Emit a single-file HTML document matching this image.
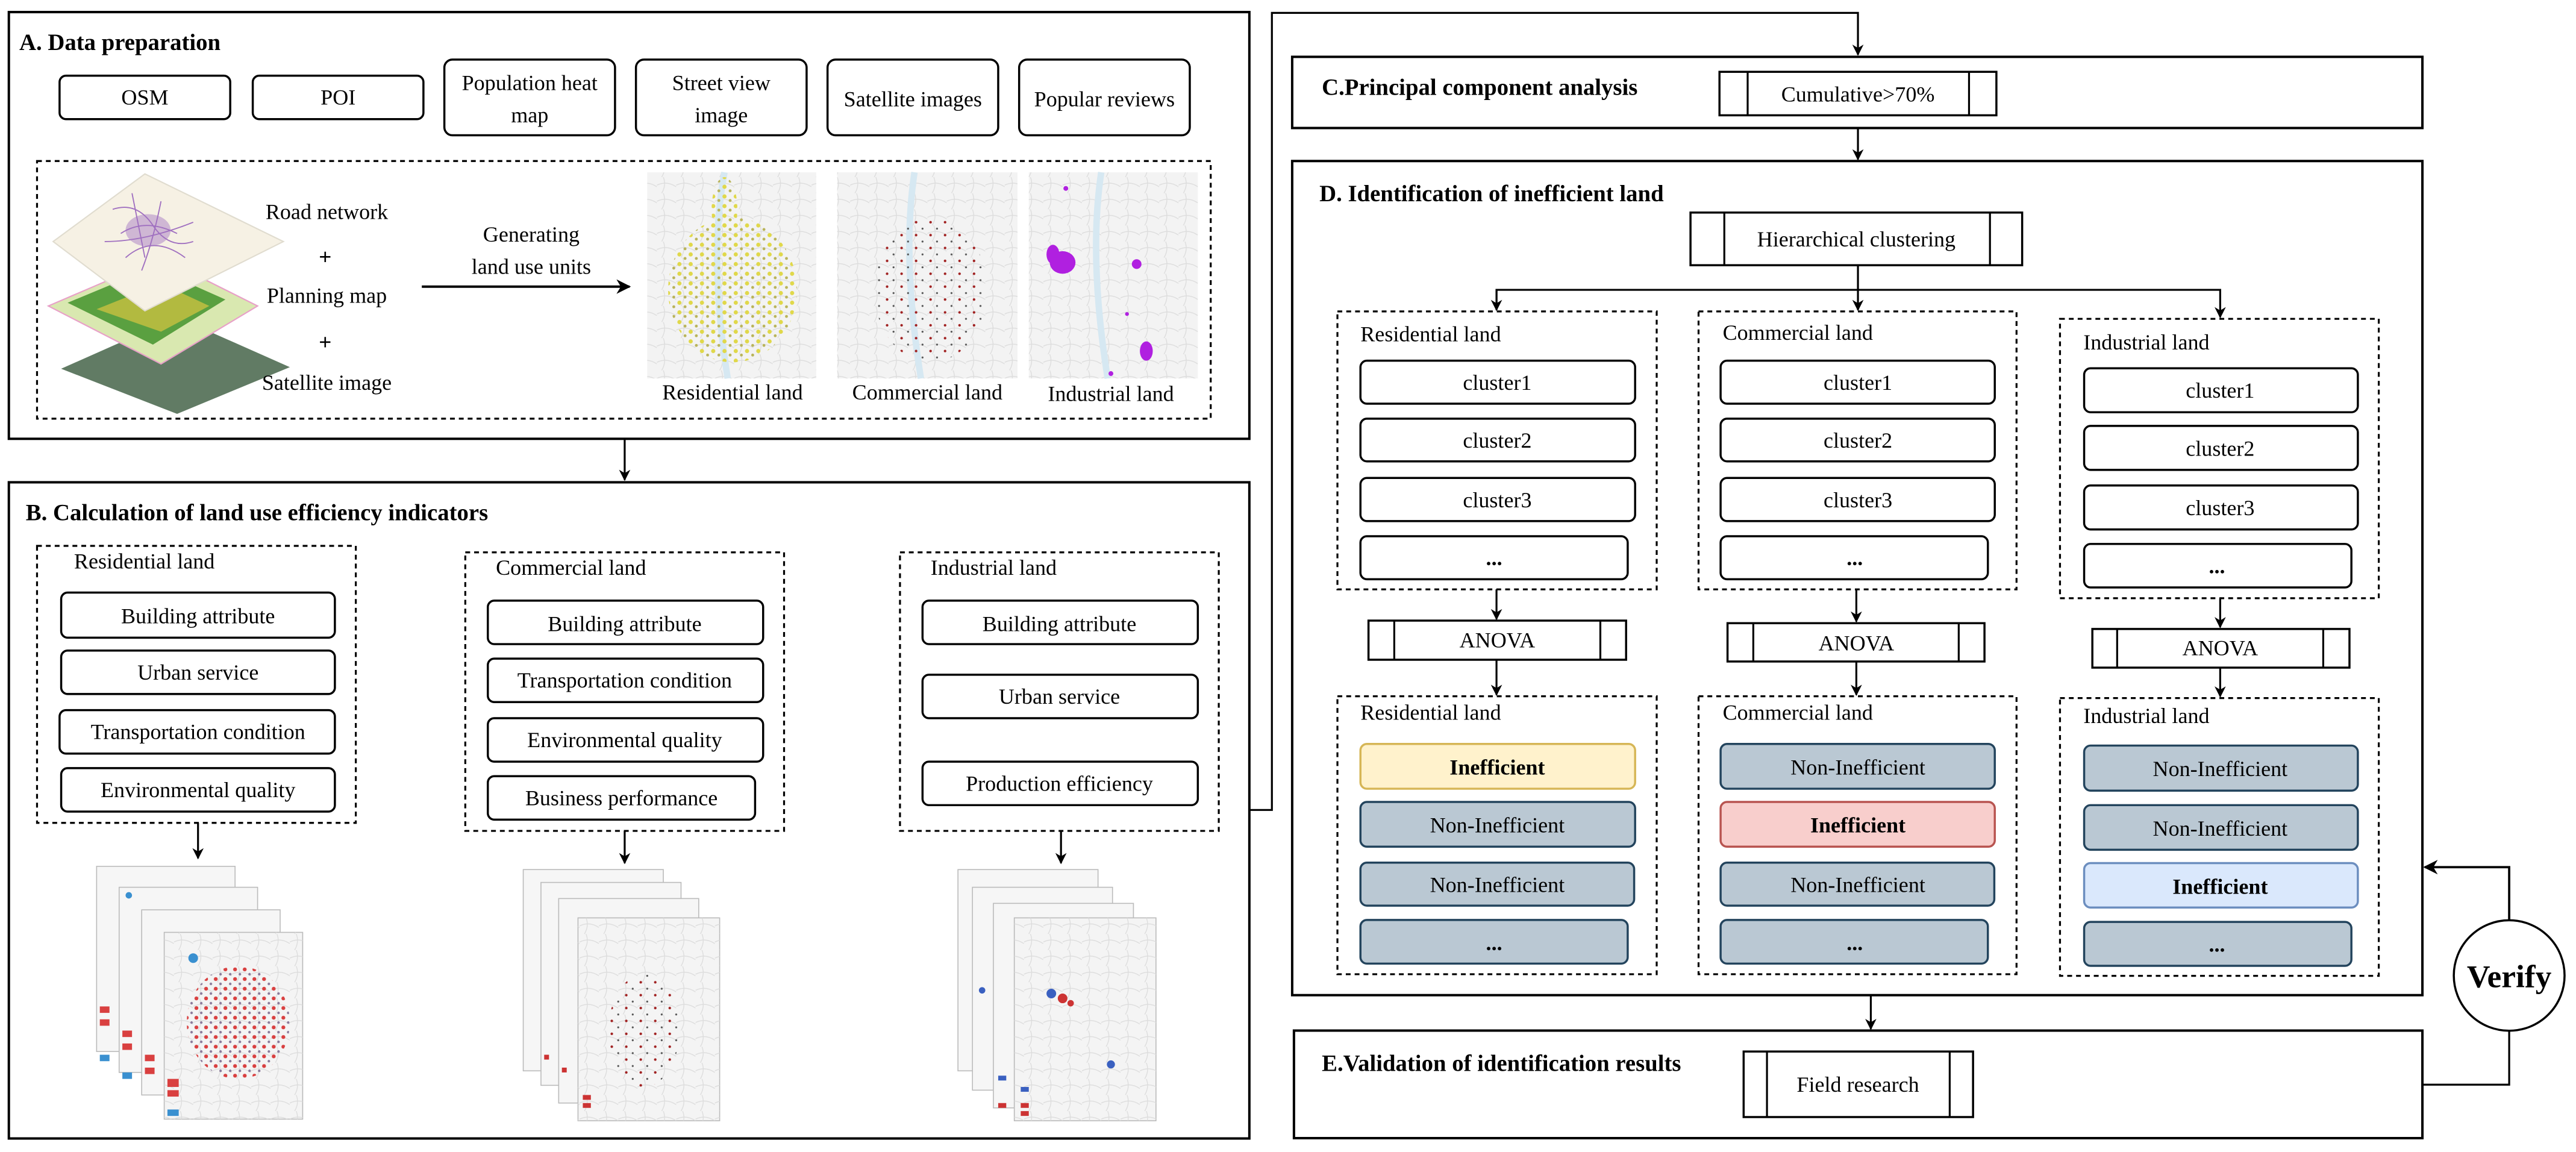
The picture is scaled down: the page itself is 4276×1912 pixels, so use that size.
<!DOCTYPE html>
<html><head><meta charset="utf-8"><style>
html,body{margin:0;padding:0;background:#fff;}
svg{display:block;}
text{font-family:"Liberation Serif",serif;fill:#000;}
</style></head><body>
<svg width="4276" height="1912" viewBox="0 0 1600 715.4" preserveAspectRatio="none" xmlns="http://www.w3.org/2000/svg">
<defs>
<marker id="ar" viewBox="0 0 10 10" refX="9" refY="5" markerWidth="7" markerHeight="7" orient="auto-start-reverse" markerUnits="userSpaceOnUse">
<path d="M0,0 L10,5 L0,10 L3,5 z" fill="#000"/></marker>
<marker id="ar2" viewBox="0 0 10 10" refX="9" refY="5" markerWidth="9" markerHeight="9" orient="auto-start-reverse" markerUnits="userSpaceOnUse">
<path d="M0,0 L10,5 L0,10 L3,5 z" fill="#000"/></marker>
<pattern id="py" width="7" height="6" patternUnits="userSpaceOnUse"><circle cx="2" cy="2" r="1.3" fill="#e0d84a"/><circle cx="5.5" cy="4.5" r="0.9" fill="#b9b45a"/></pattern>
<pattern id="pr" width="9" height="8" patternUnits="userSpaceOnUse"><circle cx="2" cy="2" r="0.8" fill="#a02020"/><circle cx="6" cy="6" r="0.6" fill="#555"/></pattern>
<pattern id="pres" width="6" height="6" patternUnits="userSpaceOnUse"><circle cx="2" cy="2" r="1.2" fill="#d94040"/><circle cx="5" cy="5" r="0.8" fill="#8a7a9a"/></pattern>
<pattern id="grid" width="12" height="10" patternUnits="userSpaceOnUse"><path d="M0,5 Q6,2 12,6 M4,0 Q6,5 3,10" stroke="#dcdcdc" stroke-width="0.5" fill="none"/></pattern>
</defs>

<!-- ===== A ===== -->
<rect x="5.5" y="7.5" width="770.5" height="265" fill="none" stroke="#000" stroke-width="1.5"/>
<text x="12" y="31" font-size="14.5" font-weight="bold">A. Data preparation</text>
<g fill="#fff" stroke="#000" stroke-width="1.3">
<rect x="37" y="47" width="106" height="27" rx="4"/>
<rect x="157" y="47" width="106" height="27" rx="4"/>
<rect x="276" y="37" width="106" height="47" rx="5"/>
<rect x="395" y="37" width="106" height="47" rx="5"/>
<rect x="514" y="37" width="106" height="47" rx="5"/>
<rect x="633" y="37" width="106" height="47" rx="5"/>
</g>
<g font-size="13.5" text-anchor="middle">
<text x="90" y="65">OSM</text>
<text x="210" y="65">POI</text>
<text x="329" y="56">Population heat</text><text x="329" y="76">map</text>
<text x="448" y="56">Street view</text><text x="448" y="76">image</text>
<text x="567" y="66">Satellite images</text>
<text x="686" y="66">Popular reviews</text>
</g>
<rect x="23" y="100" width="729" height="160" fill="none" stroke="#000" stroke-width="1.2" stroke-dasharray="3,2.5"/>
<!-- layers -->
<polygon points="38,229 110,197 180,228 110,257" fill="#6f8a70"/>
<polygon points="38,229 110,197 180,228 110,257" fill="#58725c" opacity="0.6"/>
<polygon points="30,190 100,160 160,190 100,226" fill="#d9e8b0" stroke="#e8a0c8" stroke-width="0.8"/>
<polygon points="42,188 95,166 140,186 95,214" fill="#5aa040"/>
<polygon points="60,192 100,176 130,190 100,206" fill="#c8c040" opacity="0.8"/>
<polygon points="33,150 90,108 176,150 90,193" fill="#f6f1e4" stroke="#e0dccf" stroke-width="0.8"/>
<g stroke="#a070c0" stroke-width="0.7" fill="none">
<path d="M70,130 Q85,125 95,140 T120,150 M75,145 Q90,135 110,145 M82,120 L90,160 M100,125 Q95,150 88,168 M65,150 Q90,150 120,138 M78,160 Q95,145 115,160"/>
</g>
<ellipse cx="92" cy="143" rx="14" ry="10" fill="#a070c0" opacity="0.45"/>
<g font-size="13.5" text-anchor="middle">
<text x="203" y="136">Road network</text>
<text x="202" y="164" font-weight="bold" font-size="14">+</text>
<text x="203" y="188">Planning map</text>
<text x="202" y="217" font-weight="bold" font-size="14">+</text>
<text x="203" y="242">Satellite image</text>
<text x="330" y="150">Generating</text>
<text x="330" y="170">land use units</text>
</g>
<line x1="262" y1="178" x2="391" y2="178" stroke="#000" stroke-width="1.5" marker-end="url(#ar2)"/>
<!-- A maps -->
<g>
<rect x="402" y="107" width="105" height="128" fill="#f3f3f3"/><rect x="402" y="107" width="105" height="128" fill="url(#grid)"/>
<path d="M450,107 Q440,160 452,235" stroke="#d6e8f2" stroke-width="4" fill="none"/>
<ellipse cx="455" cy="180" rx="40" ry="45" fill="url(#py)"/><ellipse cx="450" cy="130" rx="8" ry="20" fill="url(#py)"/>
<rect x="520" y="107" width="112" height="128" fill="#f3f3f3"/><rect x="520" y="107" width="112" height="128" fill="url(#grid)"/>
<path d="M568,107 Q560,160 572,235" stroke="#d6e8f2" stroke-width="4" fill="none"/>
<ellipse cx="578" cy="180" rx="35" ry="45" fill="url(#pr)"/>
<rect x="639" y="107" width="105" height="128" fill="#f3f3f3"/><rect x="639" y="107" width="105" height="128" fill="url(#grid)"/>
<path d="M684,107 Q676,160 688,235" stroke="#d6e8f2" stroke-width="4" fill="none"/>
<ellipse cx="660" cy="163" rx="8" ry="7" fill="#b020e0"/><ellipse cx="654" cy="158" rx="4" ry="6" fill="#b020e0"/>
<ellipse cx="712" cy="218" rx="4" ry="6" fill="#b020e0"/><ellipse cx="706" cy="164" rx="3" ry="3" fill="#b020e0"/>
<circle cx="662" cy="117" r="1.5" fill="#b020e0"/><circle cx="700" cy="195" r="1.2" fill="#b020e0"/><circle cx="690" cy="232" r="1.5" fill="#b020e0"/>
</g>
<g font-size="13.5" text-anchor="middle">
<text x="455" y="248">Residential land</text>
<text x="576" y="248">Commercial land</text>
<text x="690" y="249">Industrial land</text>
</g>
<line x1="388" y1="273" x2="388" y2="298" stroke="#000" stroke-width="1.2" marker-end="url(#ar)"/>

<!-- ===== B ===== -->
<rect x="5.5" y="299.5" width="770.5" height="407.5" fill="none" stroke="#000" stroke-width="1.5"/>
<text x="16" y="323" font-size="14.5" font-weight="bold">B. Calculation of  land use efficiency indicators</text>
<g fill="none" stroke="#000" stroke-width="1.2" stroke-dasharray="3,2.5">
<rect x="23" y="339" width="198" height="172"/>
<rect x="289" y="343" width="198" height="173"/>
<rect x="559" y="343" width="198" height="173"/>
</g>
<g font-size="13.5">
<text x="46" y="353">Residential land</text>
<text x="308" y="357">Commercial land</text>
<text x="578" y="357">Industrial land</text>
</g>
<g fill="#fff" stroke="#000" stroke-width="1.3">
<rect x="38" y="368" width="170" height="28" rx="4"/>
<rect x="38" y="404" width="170" height="27" rx="4"/>
<rect x="37" y="441" width="171" height="27" rx="4"/>
<rect x="38" y="477" width="170" height="27" rx="4"/>
<rect x="303" y="373" width="171" height="27" rx="4"/>
<rect x="303" y="409" width="171" height="27" rx="4"/>
<rect x="303" y="446" width="171" height="27" rx="4"/>
<rect x="303" y="482" width="166" height="27" rx="4"/>
<rect x="573" y="373" width="171" height="27" rx="4"/>
<rect x="573" y="419" width="171" height="27" rx="4"/>
<rect x="573" y="473" width="171" height="27" rx="4"/>
</g>
<g font-size="13.5" text-anchor="middle">
<text x="123" y="387">Building attribute</text>
<text x="123" y="422">Urban service</text>
<text x="123" y="459">Transportation condition</text>
<text x="123" y="495">Environmental quality</text>
<text x="388" y="392">Building attribute</text>
<text x="388" y="427">Transportation condition</text>
<text x="388" y="464">Environmental quality</text>
<text x="386" y="500">Business performance</text>
<text x="658" y="392">Building attribute</text>
<text x="658" y="437">Urban service</text>
<text x="658" y="491">Production efficiency</text>
</g>
<g stroke="#000" stroke-width="1.2">
<line x1="123" y1="511" x2="123" y2="533" marker-end="url(#ar)"/>
<line x1="388" y1="516" x2="388" y2="536" marker-end="url(#ar)"/>
<line x1="659" y1="516" x2="659" y2="536" marker-end="url(#ar)"/>
</g>
<!-- B map stacks -->
<g stroke="#bbb" stroke-width="0.6">
<g>
<rect x="60" y="538" width="86" height="115" fill="#f6f6f6"/>
<rect x="74" y="551" width="86" height="115" fill="#f6f6f6"/>
<rect x="88" y="565" width="86" height="115" fill="#f6f6f6"/>
<rect x="102" y="579" width="86" height="116" fill="#f4f4f4"/>
</g>
<g>
<rect x="325" y="540" width="87" height="125" fill="#f6f6f6"/>
<rect x="336" y="548" width="87" height="126" fill="#f6f6f6"/>
<rect x="347" y="558" width="87" height="127" fill="#f6f6f6"/>
<rect x="359" y="570" width="88" height="126" fill="#f4f4f4"/>
</g>
<g>
<rect x="595" y="540" width="87" height="125" fill="#f6f6f6"/>
<rect x="604" y="551" width="87" height="126" fill="#f6f6f6"/>
<rect x="617" y="561" width="87" height="127" fill="#f6f6f6"/>
<rect x="630" y="570" width="88" height="126" fill="#f4f4f4"/>
</g>
</g>
<rect x="102" y="579" width="86" height="116" fill="url(#grid)"/>
<ellipse cx="148" cy="635" rx="32" ry="35" fill="url(#pres)"/>
<g fill="#d94040"><rect x="62" y="625" width="6" height="4"/><rect x="62" y="633" width="6" height="4"/><rect x="76" y="640" width="6" height="4"/><rect x="76" y="648" width="6" height="4"/><rect x="90" y="655" width="6" height="4"/><rect x="90" y="663" width="6" height="4"/><rect x="104" y="670" width="7" height="5"/><rect x="104" y="677" width="7" height="4"/></g>
<g fill="#3a90d0"><rect x="62" y="655" width="6" height="4"/><rect x="76" y="666" width="6" height="4"/><rect x="104" y="689" width="7" height="4"/><circle cx="120" cy="595" r="3"/><circle cx="80" cy="556" r="2"/></g>
<rect x="359" y="570" width="88" height="126" fill="url(#grid)"/>
<ellipse cx="400" cy="640" rx="22" ry="35" fill="url(#pr)"/>
<g fill="#cc3333"><rect x="362" y="680" width="5" height="3"/><rect x="362" y="685" width="5" height="3"/><rect x="349" y="663" width="3" height="3"/><rect x="338" y="655" width="3" height="3"/></g>
<rect x="630" y="570" width="88" height="126" fill="url(#grid)"/>
<g fill="#3a60c0"><circle cx="653" cy="617" r="3"/><circle cx="610" cy="615" r="2"/><circle cx="690" cy="661" r="2.5"/><rect x="634" y="675" width="5" height="3"/><rect x="620" y="668" width="5" height="3"/></g>
<g fill="#cc3333"><circle cx="660" cy="620" r="3"/><circle cx="665" cy="623" r="2"/><rect x="634" y="690" width="5" height="3"/><rect x="634" y="685" width="5" height="3"/><rect x="620" y="685" width="5" height="3"/></g>

<!-- connector B -> C -->
<polyline points="776,503 790,503 790,8 1154,8 1154,34" fill="none" stroke="#000" stroke-width="1.2" marker-end="url(#ar)"/>

<!-- ===== C ===== -->
<rect x="802.6" y="35.3" width="702" height="44.2" fill="none" stroke="#000" stroke-width="1.5"/>
<text x="821" y="59" font-size="14.5" font-weight="bold">C.Principal component analysis</text>
<rect x="1068" y="44.6" width="172" height="27" fill="#fff" stroke="#000" stroke-width="1.3"/>
<line x1="1085.5" y1="44.6" x2="1085.5" y2="71.6" stroke="#000" stroke-width="1.2"/>
<line x1="1223" y1="44.6" x2="1223" y2="71.6" stroke="#000" stroke-width="1.2"/>
<text x="1154" y="63" font-size="13.5" text-anchor="middle">Cumulative&gt;70%</text>
<line x1="1154" y1="79.5" x2="1154" y2="99" stroke="#000" stroke-width="1.2" marker-end="url(#ar)"/>

<!-- ===== D ===== -->
<rect x="802.6" y="100" width="702" height="518" fill="none" stroke="#000" stroke-width="1.5"/>
<text x="819.5" y="125" font-size="14.5" font-weight="bold">D. Identification of inefficient land</text>
<rect x="1050" y="132" width="206" height="32.7" fill="#fff" stroke="#000" stroke-width="1.3"/>
<line x1="1071" y1="132" x2="1071" y2="164.7" stroke="#000" stroke-width="1.2"/>
<line x1="1236" y1="132" x2="1236" y2="164.7" stroke="#000" stroke-width="1.2"/>
<text x="1153" y="153" font-size="13.5" text-anchor="middle">Hierarchical clustering</text>
<g stroke="#000" stroke-width="1.2" fill="none">
<line x1="1154" y1="164.7" x2="1154" y2="192.5" marker-end="url(#ar)"/>
<polyline points="929.5,192.5 929.5,180 1379,180 1379,197" marker-end="url(#ar)"/>
<line x1="929.5" y1="180" x2="929.5" y2="192.5" marker-end="url(#ar)"/>
</g>
<g fill="none" stroke="#000" stroke-width="1.2" stroke-dasharray="3,2.5">
<rect x="830.7" y="193.4" width="198.3" height="172.6"/>
<rect x="1055" y="193.4" width="197.5" height="172.6"/>
<rect x="1279.5" y="198" width="198" height="173.5"/>
<rect x="830.7" y="432.4" width="198.3" height="172.6"/>
<rect x="1055" y="432.4" width="197.5" height="172.6"/>
<rect x="1279.5" y="433.5" width="198" height="172.5"/>
</g>
<g font-size="13.5">
<text x="845" y="212">Residential land</text>
<text x="1070" y="211">Commercial land</text>
<text x="1294" y="217">Industrial land</text>
<text x="845" y="447">Residential land</text>
<text x="1070" y="447">Commercial land</text>
<text x="1294" y="449">Industrial land</text>
</g>
<g fill="#fff" stroke="#000" stroke-width="1.3">
<rect x="845" y="224" width="170.6" height="26.7" rx="4"/>
<rect x="845" y="260" width="170.6" height="26.5" rx="4"/>
<rect x="845" y="296.8" width="170.6" height="26.8" rx="4"/>
<rect x="845" y="333" width="166" height="26.7" rx="4"/>
<rect x="1068.7" y="224" width="170.3" height="26.7" rx="4"/>
<rect x="1068.7" y="260" width="170.3" height="26.5" rx="4"/>
<rect x="1068.7" y="296.8" width="170.3" height="26.8" rx="4"/>
<rect x="1068.7" y="333" width="166" height="26.7" rx="4"/>
<rect x="1294.5" y="228.7" width="170" height="27.3" rx="4"/>
<rect x="1294.5" y="264.5" width="170" height="27.3" rx="4"/>
<rect x="1294.5" y="301.5" width="170" height="27.3" rx="4"/>
<rect x="1294.5" y="337.8" width="166" height="27" rx="4"/>
</g>
<g font-size="13.5" text-anchor="middle">
<text x="930" y="242">cluster1</text><text x="930" y="278">cluster2</text><text x="930" y="315">cluster3</text><text x="928" y="351" font-weight="bold">...</text>
<text x="1154" y="242">cluster1</text><text x="1154" y="278">cluster2</text><text x="1154" y="315">cluster3</text><text x="1152" y="351" font-weight="bold">...</text>
<text x="1379" y="247">cluster1</text><text x="1379" y="283">cluster2</text><text x="1379" y="320">cluster3</text><text x="1377" y="356" font-weight="bold">...</text>
</g>
<g stroke="#000" stroke-width="1.2">
<line x1="929.5" y1="366" x2="929.5" y2="384.5" marker-end="url(#ar)"/>
<line x1="1153" y1="366" x2="1153" y2="386" marker-end="url(#ar)"/>
<line x1="1379" y1="371.5" x2="1379" y2="389.5" marker-end="url(#ar)"/>
<line x1="929.5" y1="409.7" x2="929.5" y2="431.5" marker-end="url(#ar)"/>
<line x1="1153" y1="410.8" x2="1153" y2="431.5" marker-end="url(#ar)"/>
<line x1="1379" y1="414.6" x2="1379" y2="432.5" marker-end="url(#ar)"/>
</g>
<g fill="#fff" stroke="#000" stroke-width="1.3">
<rect x="850" y="385.4" width="160" height="24.3"/>
<rect x="1073" y="387" width="159.6" height="23.8"/>
<rect x="1299.6" y="390.6" width="159.7" height="24"/>
</g>
<g stroke="#000" stroke-width="1.2">
<line x1="866" y1="385.4" x2="866" y2="409.7"/><line x1="994" y1="385.4" x2="994" y2="409.7"/>
<line x1="1089" y1="387" x2="1089" y2="410.8"/><line x1="1216.6" y1="387" x2="1216.6" y2="410.8"/>
<line x1="1315" y1="390.6" x2="1315" y2="414.6"/><line x1="1443" y1="390.6" x2="1443" y2="414.6"/>
</g>
<g font-size="13.5" text-anchor="middle">
<text x="930" y="402">ANOVA</text><text x="1153" y="404">ANOVA</text><text x="1379" y="407">ANOVA</text>
</g>
<!-- result boxes -->
<g stroke-width="1.3">
<rect x="845" y="462" width="170.6" height="27.8" rx="4" fill="#FFF2CC" stroke="#D6B656"/>
<rect x="845" y="498" width="170.6" height="27.8" rx="4" fill="#BAC8D3" stroke="#23445D"/>
<rect x="845" y="535.7" width="170" height="26.7" rx="4" fill="#BAC8D3" stroke="#23445D"/>
<rect x="845" y="571.3" width="166" height="27.1" rx="4" fill="#BAC8D3" stroke="#23445D"/>
<rect x="1068.7" y="462" width="170.3" height="27.8" rx="4" fill="#BAC8D3" stroke="#23445D"/>
<rect x="1068.7" y="498" width="170.3" height="27.8" rx="4" fill="#F8CECC" stroke="#B85450"/>
<rect x="1068.7" y="535.7" width="170" height="26.7" rx="4" fill="#BAC8D3" stroke="#23445D"/>
<rect x="1068.7" y="571.3" width="166" height="27.1" rx="4" fill="#BAC8D3" stroke="#23445D"/>
<rect x="1294.5" y="463" width="170" height="28" rx="4" fill="#BAC8D3" stroke="#23445D"/>
<rect x="1294.5" y="500" width="170" height="27.7" rx="4" fill="#BAC8D3" stroke="#23445D"/>
<rect x="1294.5" y="536" width="170" height="27.6" rx="4" fill="#DAE8FC" stroke="#6C8EBF"/>
<rect x="1294.5" y="572.5" width="166" height="27.3" rx="4" fill="#BAC8D3" stroke="#23445D"/>
</g>
<g font-size="13.5" text-anchor="middle">
<text x="930" y="481" font-weight="bold">Inefficient</text>
<text x="930" y="517">Non-Inefficient</text>
<text x="930" y="554">Non-Inefficient</text>
<text x="928" y="590" font-weight="bold">...</text>
<text x="1154" y="481">Non-Inefficient</text>
<text x="1154" y="517" font-weight="bold">Inefficient</text>
<text x="1154" y="554">Non-Inefficient</text>
<text x="1152" y="590" font-weight="bold">...</text>
<text x="1379" y="482">Non-Inefficient</text>
<text x="1379" y="519">Non-Inefficient</text>
<text x="1379" y="555" font-weight="bold">Inefficient</text>
<text x="1377" y="591" font-weight="bold">...</text>
</g>
<line x1="1162" y1="618" x2="1162" y2="639" stroke="#000" stroke-width="1.2" marker-end="url(#ar)"/>

<!-- ===== E ===== -->
<rect x="803.7" y="640" width="700.9" height="66.8" fill="none" stroke="#000" stroke-width="1.5"/>
<text x="821" y="665" font-size="14.5" font-weight="bold">E.Validation of identification results</text>
<rect x="1083" y="653" width="142.5" height="40.7" fill="#fff" stroke="#000" stroke-width="1.3"/>
<line x1="1097.5" y1="653" x2="1097.5" y2="693.7" stroke="#000" stroke-width="1.2"/>
<line x1="1211" y1="653" x2="1211" y2="693.7" stroke="#000" stroke-width="1.2"/>
<text x="1154" y="678" font-size="13.5" text-anchor="middle">Field research</text>

<!-- Verify loop -->
<polyline points="1504.6,673.6 1558.5,673.6 1558.5,640" fill="none" stroke="#000" stroke-width="1.2"/>
<polyline points="1558.5,571.5 1558.5,538.5 1506,538.5" fill="none" stroke="#000" stroke-width="1.4" marker-end="url(#ar2)"/>
<ellipse cx="1558.5" cy="605.8" rx="34.4" ry="34.3" fill="#fff" stroke="#000" stroke-width="1.3"/>
<text x="1558.5" y="613" font-size="20" font-weight="bold" text-anchor="middle">Verify</text>
</svg>
</body></html>
